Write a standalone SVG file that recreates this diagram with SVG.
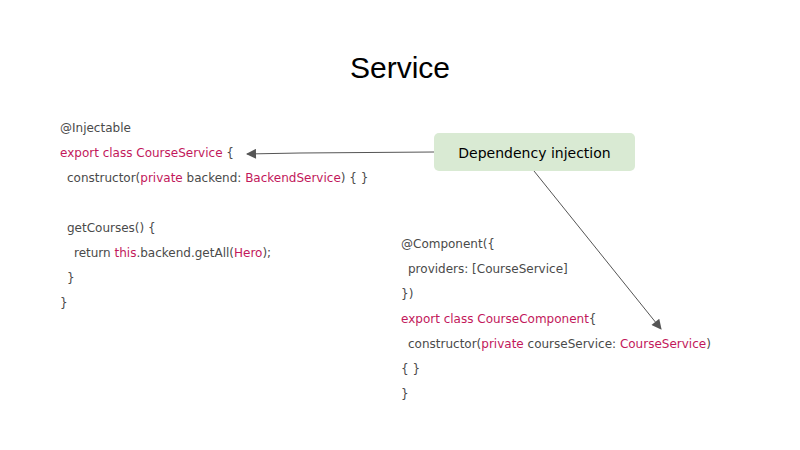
<svg xmlns="http://www.w3.org/2000/svg" width="800" height="450" viewBox="0 0 800 450">
<style>
.c{font-family:"DejaVu Sans",sans-serif;font-size:12px;fill:#4a4a4a}
.k{fill:#c2185b}
.e{stroke:#555;stroke-width:1;fill:none}
</style>
<defs><marker id="a" viewBox="0 0 10 10" refX="9" refY="5" markerWidth="12" markerHeight="10" markerUnits="userSpaceOnUse" orient="auto"><path d="M0,0L10,5L0,10z" fill="#555"/></marker></defs>
<rect width="800" height="450" fill="#fff"/>
<text x="400" y="78" text-anchor="middle" font-family="Liberation Sans,sans-serif" font-size="30" fill="#000">Service</text>
<g id="code1" class="c">
<text x="60" y="132">@Injectable</text>
<text x="60" y="157"><tspan class="k">export class CourseService</tspan> {</text>
<text x="67" y="182">constructor(<tspan class="k">private</tspan> backend: <tspan class="k">BackendService</tspan>) { }</text>
<text x="67" y="232">getCourses() {</text>
<text x="74" y="257">return <tspan class="k">this</tspan>.backend.getAll(<tspan class="k">Hero</tspan>);</text>
<text x="67" y="282">}</text>
<text x="60" y="307">}</text>
</g>
<g id="code2" class="c">
<text x="401" y="248">@Component({</text>
<text x="408" y="273">providers: [CourseService]</text>
<text x="401" y="298">})</text>
<text x="401" y="323"><tspan class="k">export class CourseComponent</tspan>{</text>
<text x="408" y="348">constructor(<tspan class="k">private</tspan> courseService: <tspan class="k">CourseService</tspan>)</text>
<text x="401" y="373">{ }</text>
<text x="401" y="398">}</text>
</g>
<g id="di">
<rect x="434" y="133" width="201" height="38" rx="5" fill="#d9ead3"/>
<text x="534.5" y="158" text-anchor="middle" font-family="DejaVu Sans,sans-serif" font-size="14" fill="#000">Dependency injection</text>
</g>
<g id="connectors">
<path class="e" d="M434,152L300,153L247,154" marker-end="url(#a)"/>
<path class="e" d="M534,171L661,329" marker-end="url(#a)"/>
</g>
</svg>
